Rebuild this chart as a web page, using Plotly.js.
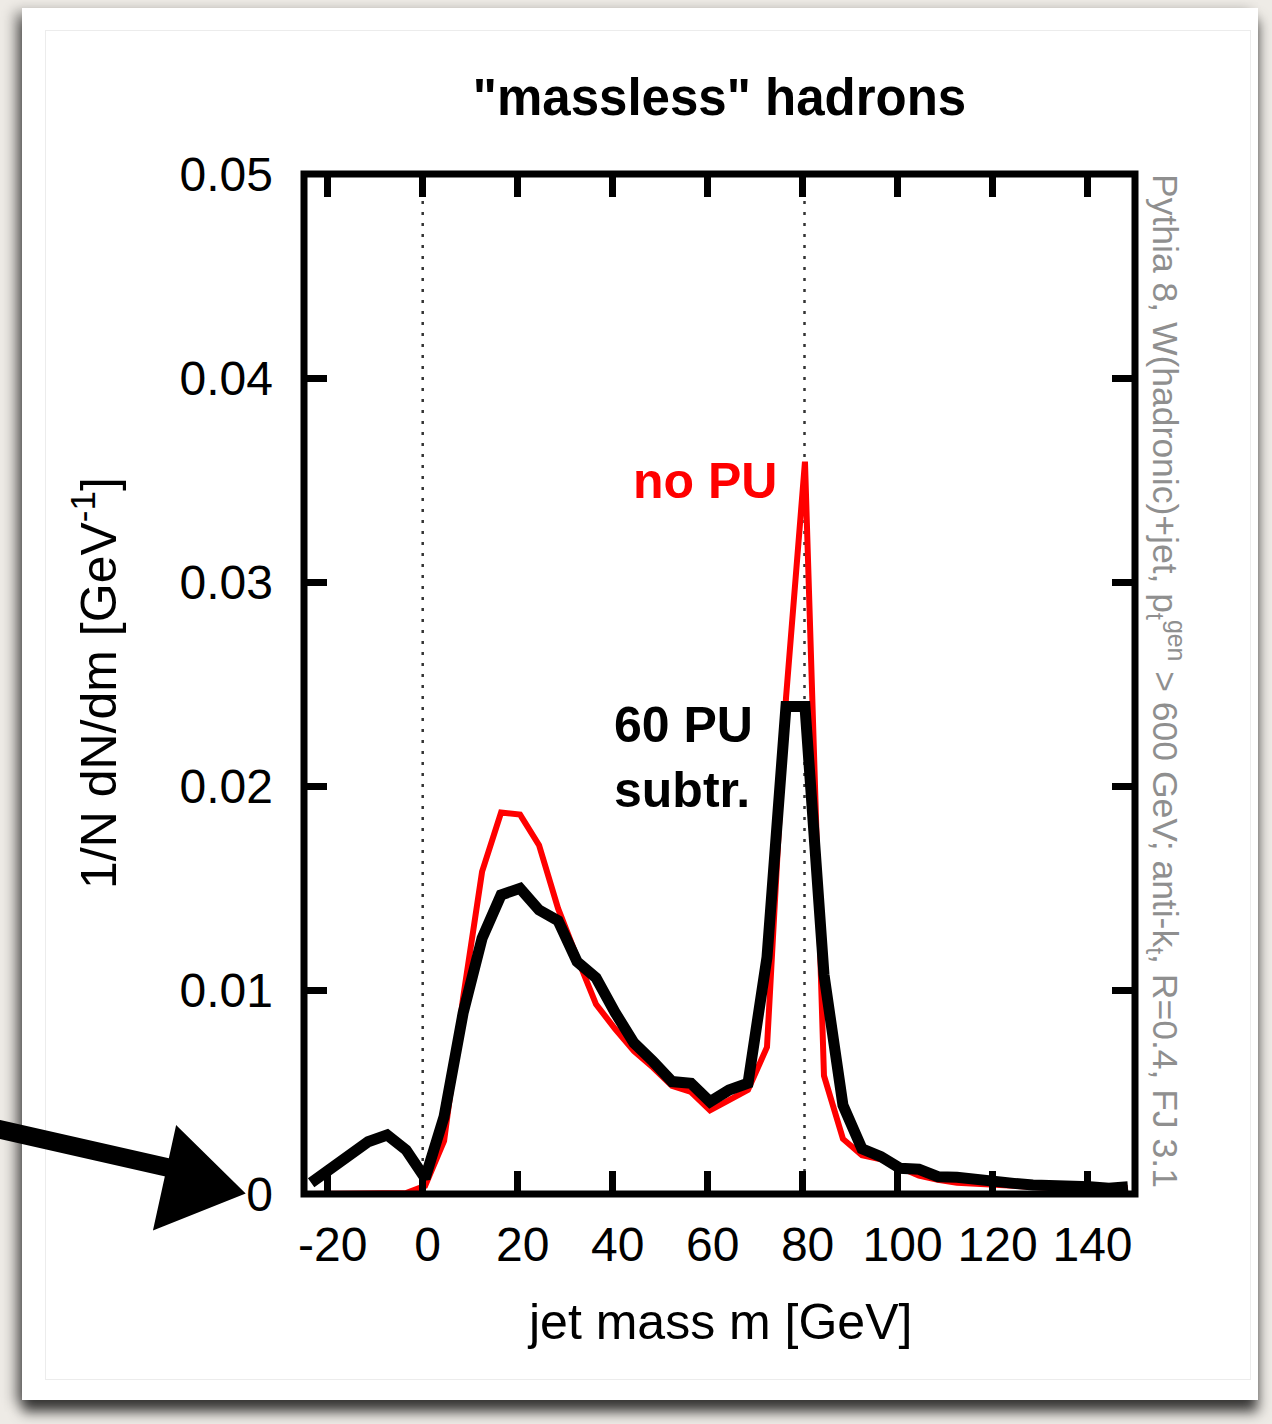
<!DOCTYPE html>
<html>
<head>
<meta charset="utf-8">
<script src="https://cdn.plot.ly/plotly-3.0.1.min.js"></script>
<style>
  html, body { margin: 0; padding: 0; width: 1272px; height: 1424px; overflow: hidden; background: #eeebe6; }
  #card { position: absolute; left: 22px; top: 8px; width: 1236px; height: 1392px; background: #ffffff;
          box-shadow: -8px 3px 12px rgba(0,0,0,0.32), 0px 12px 12px rgba(0,0,0,0.70); }
  #inner { position: absolute; left: 45px; top: 30px; width: 1204px; height: 1348px; border: 1px solid #ececec; }
  #chart { position: absolute; left: 0; top: 0; width: 1272px; height: 1424px; }
</style>
</head>
<body>
<div id="card"></div>
<div id="inner"></div>
<div id="chart"></div>
<script>
// jet mass bin centres [GeV]
const mass = [-23.5, -19.5, -15.5, -11.5, -7.5, -3.5, 0.5, 4.5, 8.5, 12.5, 16.5, 20.5, 24.5, 28.5,
              32.5, 36.5, 40.5, 44.5, 48.5, 52.5, 56.5, 60.5, 64.5, 68.5, 72.5, 76.5, 80.5, 84.5,
              88.5, 92.5, 96.5, 100.5, 104.5, 108.5, 112.5, 116.5, 120.5, 124.5, 128.5, 132.5,
              136.5, 140.5, 144.5, 148.5];

// 1/N dN/dm, no pile-up (red)
const noPU = [0, 0, 0, 0, 0, 0.00005, 0.0004, 0.0026, 0.0096, 0.0158, 0.0187, 0.0186, 0.0171, 0.0140,
              0.0116, 0.0093, 0.0081, 0.0070, 0.0062, 0.0053, 0.0050, 0.0041, 0.0046, 0.0051, 0.0072, 0.0243, 0.0359, 0.0058,
              0.0027, 0.0019, 0.0017, 0.0013, 0.0009, 0.0007, 0.00055, 0.0005, 0.00045, 0.0004, 0.0003, 0.0003,
              0.00025, 0.0002, 0.0002, 0.0003];

// 1/N dN/dm, 60 PU, subtracted (black)
const pu60sub = [0.00055, 0.00126, 0.00183, 0.00256, 0.00289, 0.00216, 0.00077, 0.00379, 0.00886, 0.01253, 0.01466, 0.01498, 0.01392, 0.01340,
                 0.01139, 0.01060, 0.00890, 0.00740, 0.00650, 0.00551, 0.00543, 0.00452, 0.00510, 0.00543, 0.01160, 0.02390, 0.02390, 0.01076,
                 0.00435, 0.00222, 0.00183, 0.00126, 0.00121, 0.00085, 0.00082, 0.00069, 0.00065, 0.00052, 0.00044, 0.00044,
                 0.00036, 0.00036, 0.00028, 0.00036];

// reference mass lines: m = 0 and m = mW
const refLines = [0, 80.4];

const xTicks = [-20, 0, 20, 40, 60, 80, 100, 120, 140];
const yTicks = [0, 0.01, 0.02, 0.03, 0.04, 0.05];
const yTickText = ['0', '0.01', '0.02', '0.03', '0.04', '0.05'];

const FONT = 'Liberation Sans, Arial, Helvetica, sans-serif';

// plot-area geometry (pixels) used to place decorations in paper coordinates
const PL = 304, PW = 831, PB = 1194, PH = 1020;
const px = v => ((v - PL) / PW).toFixed(4);
const py = v => ((PB - v) / PH).toFixed(4);

const traces = [
  { x: mass, y: noPU, type: 'scatter', mode: 'lines', name: 'no PU',
    line: { color: '#ff0000', width: 6 }, hoverinfo: 'skip' },
  { x: mass, y: pu60sub, type: 'scatter', mode: 'lines', name: '60 PU subtr.',
    line: { color: '#000000', width: 11 }, hoverinfo: 'skip' }
];

const shapes = refLines.map(v => ({
  type: 'line', xref: 'x', yref: 'y', x0: v, x1: v, y0: 0, y1: 0.05,
  line: { color: '#333333', width: 2.5, dash: '3px,8px' }, layer: 'below'
}));
shapes.push({ type: 'rect', xref: 'paper', yref: 'paper', x0: 0, x1: 1, y0: 0, y1: 1,
  line: { color: '#000000', width: 7 }, fillcolor: 'rgba(0,0,0,0)', layer: 'above' });
// hand-drawn style arrow pointing at the zero label (decoration)
shapes.push({ type: 'path', xref: 'paper', yref: 'paper', layer: 'above',
  path: 'M' + px(0) + ',' + py(1121) + ' L' + px(172) + ',' + py(1160) + ' L' + px(168) + ',' + py(1176) +
        ' L' + px(0) + ',' + py(1138) + ' Z',
  fillcolor: '#000000', line: { color: '#000000', width: 2 } });
shapes.push({ type: 'path', xref: 'paper', yref: 'paper', layer: 'above',
  path: 'M' + px(177) + ',' + py(1128) + ' L' + px(243) + ',' + py(1193) + ' L' + px(155) + ',' + py(1228) + ' Z',
  fillcolor: '#000000', line: { color: '#000000', width: 3 } });

const layout = {
  width: 1272, height: 1424,
  margin: { l: 304, r: 137, t: 174, b: 230, pad: 0 },
  paper_bgcolor: 'rgba(0,0,0,0)', plot_bgcolor: 'rgba(0,0,0,0)',
  showlegend: false,
  font: { family: FONT, color: '#000000', size: 48 },
  title: { text: '<b>"massless" hadrons</b>', font: { family: FONT, size: 51, color: '#000' },
           x: 0.5, xref: 'paper', xanchor: 'center', y: 1 - 97 / 1424, yanchor: 'middle' },
  xaxis: { range: [-25, 150], tickvals: xTicks, ticktext: xTicks.map(String),
           ticks: 'inside', ticklen: 23, tickwidth: 7, tickcolor: '#000',
           showline: false, mirror: 'ticks', showgrid: false, zeroline: false,
           tickfont: { family: FONT, size: 48, color: '#000' }, ticklabelstandoff: 18, ticklabelshift: 5,
           fixedrange: true },
  yaxis: { range: [0, 0.05], tickvals: yTicks, ticktext: yTickText,
           ticks: 'inside', ticklen: 23, tickwidth: 7, tickcolor: '#000',
           showline: false, mirror: 'ticks', showgrid: false, zeroline: false,
           tickfont: { family: FONT, size: 48, color: '#000' }, ticklabelstandoff: 30, fixedrange: true },
  shapes: shapes,
  annotations: [
    { text: 'jet mass m [GeV]', xref: 'paper', yref: 'paper', x: 0.5, y: (1194 - 1322) / 1020,
      xanchor: 'center', yanchor: 'middle', showarrow: false, font: { family: FONT, size: 50, color: '#000' } },
    { text: '1/N dN/dm [GeV<sup>-1</sup>]', xref: 'paper', yref: 'paper', x: (95 - 304) / 831, y: (1194 - 683) / 1020,
      xanchor: 'center', yanchor: 'middle', textangle: -90, showarrow: false, font: { family: FONT, size: 50, color: '#000' } },
    { text: 'Pythia 8, W(hadronic)+jet, p<sub>t</sub><sup>gen</sup> &gt; 600 GeV; anti-k<sub>t</sub>, R=0.4, FJ 3.1',
      xref: 'paper', yref: 'paper', x: (1166 - 304) / 831, y: (1194 - 681) / 1020,
      xanchor: 'center', yanchor: 'middle', textangle: 90, showarrow: false, font: { family: FONT, size: 35.5, color: '#8f8f8f' } },
    { text: '<b>no PU</b>', xref: 'x', yref: 'y', x: 43.8, y: 0.03495, xanchor: 'left', yanchor: 'middle',
      showarrow: false, font: { family: FONT, size: 50, color: '#ff0000' } },
    { text: '<b>60 PU<br>subtr.</b>', xref: 'x', yref: 'y', x: 39.9, y: 0.0214, xanchor: 'left', yanchor: 'middle',
      align: 'left', showarrow: false, font: { family: FONT, size: 50, color: '#000' } }
  ]
};

Plotly.newPlot('chart', traces, layout, { staticPlot: true, displayModeBar: false });
</script>
</body>
</html>
